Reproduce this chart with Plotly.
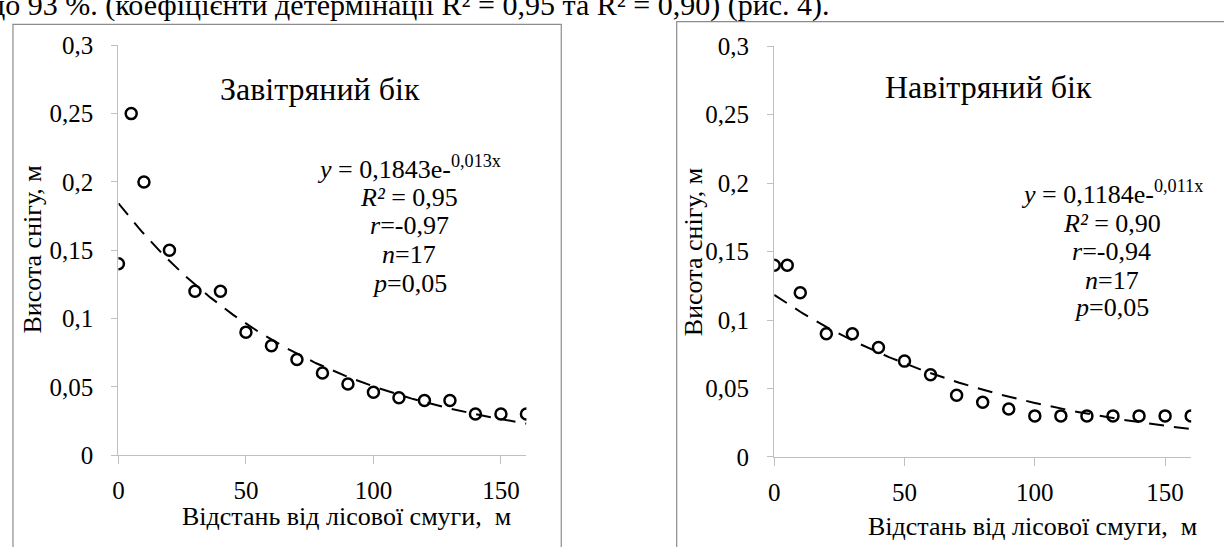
import numpy as np
import plotly.graph_objects as go

# ---------------- data ----------------
distance = [0, 5, 10, 20, 30, 40, 50, 60, 70, 80, 90, 100, 110, 120, 130, 140, 150, 160]
leeward = [0.14, 0.25, 0.20, 0.15, 0.12, 0.12, 0.09, 0.08, 0.07, 0.06, 0.052, 0.046,
           0.042, 0.04, 0.04, 0.03, 0.03, 0.03]
windward = [0.14, 0.14, 0.12, 0.09, 0.09, 0.08, 0.07, 0.06, 0.045, 0.04, 0.035, 0.03,
            0.03, 0.03, 0.03, 0.03, 0.03, 0.03]

# exponential trendline coefficients (as printed on the chart)
lee_a, lee_b = 0.1843, -0.013
win_a, win_b = 0.1184, -0.011

y_tickvals = [0, 0.05, 0.1, 0.15, 0.2, 0.25, 0.3]
y_ticktext = ["0", "0,05", "0,1", "0,15", "0,2", "0,25", "0,3"]
x_tickvals = [0, 50, 100, 150]
x_ticktext = ["0", "50", "100", "150"]

title_left = "Завітряний бік"
title_right = "Навітряний бік"
y_title = "Висота снігу, м"
x_title = "Відстань від лісової смуги,  м"
eq_left = ["<i>y</i> = 0,1843e-<sup>0,013x</sup>", "<i>R²</i> = 0,95", "<i>r</i>=-0,97",
           "<i>n</i>=17", "<i>p</i>=0,05"]
eq_right = ["<i>y</i> = 0,1184e-<sup>0,011x</sup>", "<i>R²</i> = 0,90", "<i>r</i>=-0,94",
            "<i>n</i>=17", "<i>p</i>=0,05"]
top_text = "до 93 %. (коефіцієнти детермінації R² = 0,95 та R² = 0,90) (рис. 4)."

# ---------------- figure ----------------
W, H = 1224, 547
FONT = "Liberation Serif, Times New Roman, Times, serif"


def px(x):
    return x / W


def py(y):
    return 1 - y / H


trend_x = np.linspace(0, 160, 161)

fig = go.Figure()

marker = dict(symbol="circle-open", size=11, color="black", line=dict(width=2.5, color="black"))
dashline = dict(color="black", width=2, dash="15px,10px")

fig.add_trace(go.Scatter(x=distance, y=leeward, mode="markers", marker=marker,
                         xaxis="x", yaxis="y", showlegend=False))
fig.add_trace(go.Scatter(x=trend_x, y=lee_a * np.exp(lee_b * trend_x), mode="lines",
                         line=dashline, xaxis="x", yaxis="y", showlegend=False))
fig.add_trace(go.Scatter(x=distance, y=windward, mode="markers", marker=marker,
                         xaxis="x2", yaxis="y2", showlegend=False))
fig.add_trace(go.Scatter(x=trend_x, y=win_a * np.exp(win_b * trend_x), mode="lines",
                         line=dashline, xaxis="x2", yaxis="y2", showlegend=False))

axis_gray = "#c0c0c0"
TICK = 25


def xaxis(domain, anchor):
    return dict(domain=domain, range=[0, 160], anchor=anchor, showgrid=False, zeroline=False,
                showline=True, linecolor=axis_gray, linewidth=1.3,
                ticks="outside", ticklen=8, tickcolor=axis_gray, tickwidth=1.3,
                tickvals=x_tickvals, ticktext=x_ticktext, ticklabelstandoff=5,
                tickfont=dict(family=FONT, size=TICK, color="black"))


def yaxis(domain, anchor):
    return dict(domain=domain, range=[0, 0.3], anchor=anchor, showgrid=False, zeroline=False,
                showline=True, linecolor=axis_gray, linewidth=1.3,
                ticks="outside", ticklen=6, tickcolor=axis_gray, tickwidth=1.3,
                tickvals=y_tickvals, ticktext=y_ticktext, ticklabelstandoff=13,
                tickfont=dict(family=FONT, size=TICK, color="black"))


fig.update_layout(
    width=W, height=H,
    margin=dict(l=0, r=0, t=0, b=0),
    paper_bgcolor="white", plot_bgcolor="white",
    font=dict(family=FONT, color="black"),
    xaxis=xaxis([px(113), px(523)], "y"),
    yaxis=yaxis([py(465), py(34)], "x"),
    xaxis2=xaxis([px(772), px(1191)], "y2"),
    yaxis2=yaxis([py(467), py(35)], "x2"),
)

# frames around the two charts
frame = dict(color="#8c8c8c", width=1.2)
fig.add_shape(type="rect", xref="paper", yref="paper", x0=px(7), x1=px(558), y0=py(600), y1=py(12),
              line=frame, fillcolor="rgba(0,0,0,0)", layer="below")
fig.add_shape(type="rect", xref="paper", yref="paper", x0=px(674), x1=px(1260), y0=py(600), y1=py(9),
              line=frame, fillcolor="rgba(0,0,0,0)", layer="below")


def ann(text, x, y, size, **kw):
    fig.add_annotation(text=text, x=px(x), y=py(y), xref="paper", yref="paper",
                       showarrow=False, font=dict(family=FONT, size=size, color="black"),
                       xanchor=kw.pop("xanchor", "center"), yanchor=kw.pop("yanchor", "middle"), **kw)


ann(title_left, 316, 80, 32)
ann(title_right, 987, 78, 32)

for t, yy in zip(eq_left, [163, 194, 224, 254, 285]):
    ann(t, 405, yy, 26)
for t, yy in zip(eq_right, [189, 221, 251, 281, 310]):
    ann(t, 1111, yy, 26)

ann(y_title, 27, 249, 26, textangle=-90)
ann(y_title, 691, 252, 26, textangle=-90)
ann(x_title, 342, 530, 26)
ann(x_title, 1032, 540, 26)

# partially visible line of document text above the charts (cut off by the page edge)
ann(top_text, 830, 12, 30, xanchor="right", yanchor="bottom")

fig.write_html("out.html")
